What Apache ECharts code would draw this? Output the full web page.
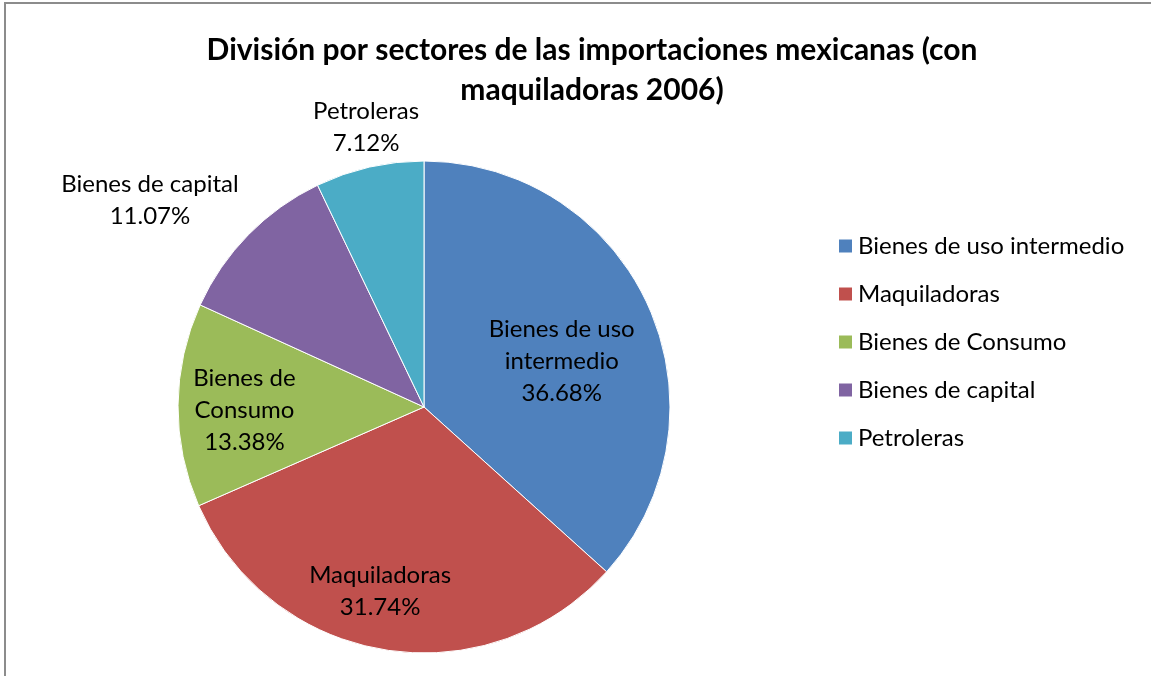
<!DOCTYPE html>
<html><head><meta charset="utf-8">
<script src="https://cdn.jsdelivr.net/npm/echarts@6/dist/echarts.min.js"></script>
<style>html,body{margin:0;padding:0;background:#fff}#c{width:1151px;height:676px}</style>
</head><body><div id="c"></div>
<script>
const categories = ['Bienes de uso intermedio','Maquiladoras','Bienes de Consumo','Bienes de capital','Petroleras'];
const values = [36.68, 31.74, 13.38, 11.07, 7.12];
const labelTexts = ['Bienes de uso\nintermedio\n36.68%','Maquiladoras\n31.74%','Bienes de\nConsumo\n13.38%','Bienes de capital\n11.07%','Petroleras\n7.12%'];
const colors = ['#4F81BD','#C0504D','#9BBB59','#8064A2','#4BACC6'];
// label placement in polar terms: angle clockwise from top (deg), radius as fraction of pie radius
const labelPolar = [[71.6,0.59],[193.4,0.77],[269,0.73],[307,1.395],[348.3,1.16]];
const CX = 424, CY = 407, R = 246;
const FONT = 'Lato';
const chart = echarts.init(document.getElementById('c'), null, {renderer:'canvas'});
chart.setOption({
  animation:false,
  color: colors,
  title:{
    text:'División por sectores de las importaciones mexicanas (con\nmaquiladoras 2006)',
    left:592, top:30, padding:0, textAlign:'center',
    textStyle:{fontFamily:FONT,fontWeight:'bold',fontSize:30,lineHeight:40,color:'#000'}
  },
  legend:{
    orient:'vertical', left:837, top:234, padding:0,
    icon:'rect', itemWidth:15, itemHeight:15, itemGap:24,
    textStyle:{fontFamily:FONT,fontSize:24,color:'#000'},
    data: categories
  },
  graphic:[{type:'rect',shape:{x:5,y:3,width:1300,height:800},style:{fill:'none',stroke:'#8c8c8c',lineWidth:2},silent:true}],
  series:[{
    type:'pie', center:[CX,CY], radius:R, startAngle:90, clockwise:true,
    itemStyle:{borderColor:'#fff',borderWidth:1},
    label:{show:true, position:'inside', fontFamily:FONT, fontSize:24, lineHeight:32, color:'#000', align:'center',
      formatter: p => labelTexts[p.dataIndex]},
    labelLine:{show:false},
    labelLayout: function(p){
      const a = labelPolar[p.dataIndex][0]*Math.PI/180, f = labelPolar[p.dataIndex][1];
      return {x: CX + f*R*Math.sin(a), y: CY - f*R*Math.cos(a), align:'center', verticalAlign:'middle'};
    },
    data: categories.map((n,i)=>({name:n, value:values[i]}))
  }]
});
</script></body></html>
